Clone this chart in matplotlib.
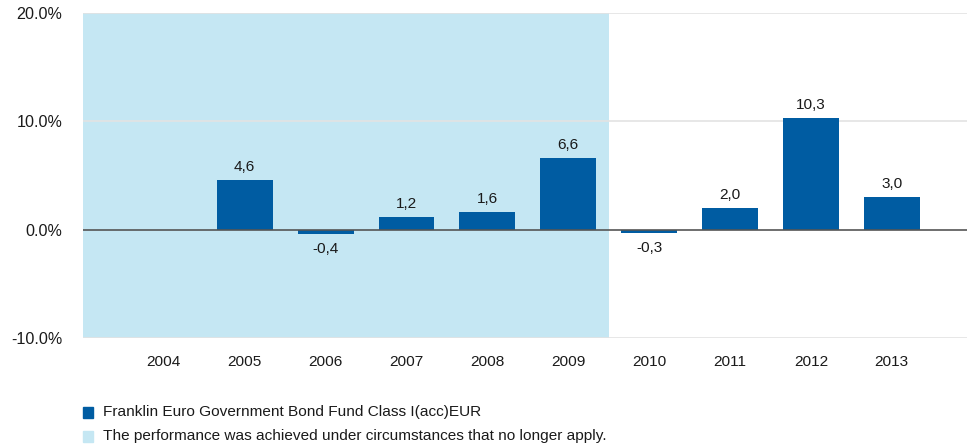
import matplotlib
matplotlib.use("Agg")
import matplotlib.pyplot as plt
import numpy as np

plt.rcParams['font.family'] = ['Liberation Sans', 'DejaVu Sans']
fs = 11.1

years = ["2004", "2005", "2006", "2007", "2008", "2009", "2010", "2011", "2012", "2013"]
values = [np.nan, 4.6, -0.4, 1.2, 1.6, 6.6, -0.3, 2.0, 10.3, 3.0]
labels = ["", "4,6", "-0,4", "1,2", "1,6", "6,6", "-0,3", "2,0", "10,3", "3,0"]
yticks = [-10, 0, 10, 20]
series_name = "Franklin Euro Government Bond Fund Class I(acc)EUR"
shade_note = "The performance was achieved under circumstances that no longer apply."

bar_color = "#005CA2"
shade_color = "#C5E7F3"

fig = plt.figure(figsize=(9.67, 4.48), dpi=100)
ax = fig.add_axes([0.0858, 0.2455, 0.9142, 0.7255])

x = np.arange(len(years))
ax.axvspan(-1, 5.5, color=shade_color, zorder=0, lw=0)
for yv in yticks:
    if yv != 0:
        ax.axhline(yv, color="#E3E3E3", lw=1.2, zorder=1)
ax.axhline(0, color="#555555", lw=1.2, zorder=3)
ax.bar(x, values, width=0.69, color=bar_color, zorder=2)

for xi, v, lab in zip(x, values, labels):
    if np.isnan(v):
        continue
    if v >= 0:
        ax.text(xi, v + 0.55, lab, ha="center", va="bottom", fontsize=fs, color="#1a1a1a")
    else:
        ax.text(xi, v - 0.7, lab, ha="center", va="top", fontsize=fs, color="#1a1a1a")

ax.set_xlim(-1, 9.93)
ax.set_ylim(-10, 20)
ax.set_yticks(yticks)
ax.set_yticklabels([f"{t:.1f}%" for t in yticks])
ax.set_xticks(x)
ax.set_xticklabels(years)
ax.tick_params(axis="both", length=0, labelsize=fs, colors="#1a1a1a")
ax.tick_params(axis="y", pad=15, labelsize=11.6)
ax.tick_params(axis="x", pad=12)
for s in ax.spines.values():
    s.set_visible(False)

# legend
fig.patches.append(plt.Rectangle((83/967, 1-(418/448)), 10/967, 11/448, transform=fig.transFigure, color=bar_color))
fig.patches.append(plt.Rectangle((83/967, 1-(442/448)), 10/967, 11/448, transform=fig.transFigure, color=shade_color))
fig.text(103/967, 1-(412/448), series_name, fontsize=fs, va="center", ha="left", color="#1a1a1a")
fig.text(103/967, 1-(436/448), shade_note, fontsize=fs, va="center", ha="left", color="#1a1a1a")

fig.savefig("out.png", dpi=100)
